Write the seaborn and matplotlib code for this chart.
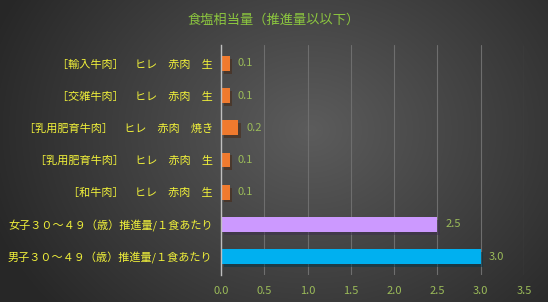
import numpy as np
import pandas as pd
import matplotlib
matplotlib.use("Agg")
import matplotlib.pyplot as plt
import matplotlib.patheffects as pe
import seaborn as sns

categories = [
    "［輸入牛肉］　ヒレ　赤肉　生",
    "［交雑牛肉］　ヒレ　赤肉　生",
    "［乳用肥育牛肉］　ヒレ　赤肉　焼き",
    "［乳用肥育牛肉］　ヒレ　赤肉　生",
    "［和牛肉］　ヒレ　赤肉　生",
    "女子３０～４９（歳）推進量/１食あたり",
    "男子３０～４９（歳）推進量/１食あたり",
]
values = [0.1, 0.1, 0.2, 0.1, 0.1, 2.5, 3.0]
colors = ["#f07a2e", "#f07a2e", "#f07a2e", "#f07a2e", "#f07a2e", "#cc99ff", "#00b0f0"]
xticks = [0.0, 0.5, 1.0, 1.5, 2.0, 2.5, 3.0, 3.5]
title = "食塩相当量（推進量以以下）"

sns.set_theme(style="dark")
plt.rcParams['font.family'] = ['Noto Sans CJK JP', 'DejaVu Sans']

fig = plt.figure(figsize=(5.48, 3.02), dpi=100)

# background radial gradient
bg = fig.add_axes([0, 0, 1, 1], zorder=-10)
yy, xx = np.mgrid[0:302, 0:548]
d = np.sqrt(((xx - 310) / 340.0) ** 2 + ((yy - 130) / 280.0) ** 2)
d = np.clip(d, 0, 1)
c0 = np.array([0x5c, 0x5c, 0x5c]) / 255
c1 = np.array([0x27, 0x27, 0x27]) / 255
img = c0[None, None, :] * (1 - d[..., None]) + c1[None, None, :] * d[..., None]
bg.imshow(img, aspect="auto", extent=[0, 1, 0, 1])
bg.set_axis_off()

ax = fig.add_axes([221 / 548, 1 - 275 / 302, 303 / 548, 230 / 302])
ax.patch.set_alpha(0)

df = pd.DataFrame({"cat": categories, "val": values})
sns.barplot(data=df, x="val", y="cat", hue="cat", palette=colors, legend=False,
            width=0.46, ax=ax, saturation=1, linewidth=0, edgecolor="none")

for p in ax.patches:
    p.set_path_effects([pe.SimplePatchShadow(offset=(2, -2), alpha=0.5), pe.Normal()])

for i, v in enumerate(values):
    ax.text(v + 0.09, i, f"{v:.1f}", va="center", ha="left", color="#9bbb59", fontsize=8)

ax.set_xlim(0, 3.5)
ax.set_ylim(6.57, -0.57)
ax.set_xticks(xticks)
ax.set_xticklabels([f"{t:.1f}" for t in xticks], color="#9bbb59", fontsize=8)
ax.tick_params(axis="y", colors="#ffff33", labelsize=8, length=0, pad=6)
ax.tick_params(axis="x", length=0, pad=8)
for lab in ax.get_yticklabels():
    lab.set_color("#f2f23a")
ax.set_xlabel("")
ax.set_ylabel("")
ax.grid(axis="x", color="#6e6e6e", linewidth=0.8)
ax.grid(axis="y", visible=False)
ax.set_axisbelow(True)
for s in ["top", "right", "bottom"]:
    ax.spines[s].set_visible(False)
ax.spines["left"].set_color("#bfbfbf")
ax.spines["left"].set_linewidth(1)

fig.text(0.5, 1 - 20 / 302, title, ha="center", va="center", color="#8cc63f", fontsize=9.5)

fig.savefig("out.png", dpi=100)
